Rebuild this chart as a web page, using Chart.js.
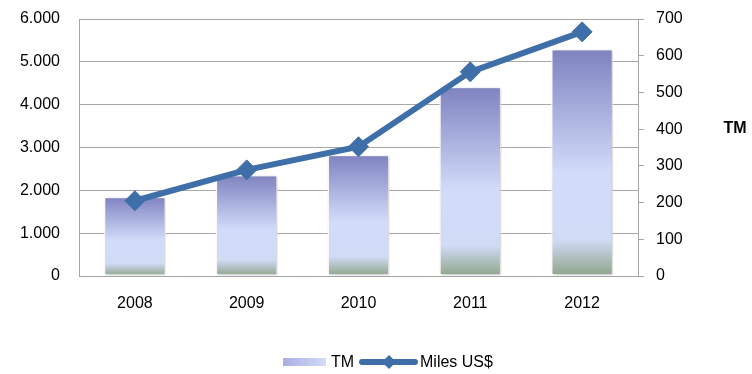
<!DOCTYPE html>
<html>
<head>
<meta charset="utf-8">
<script src="https://cdn.jsdelivr.net/npm/chart.js@4/dist/chart.umd.min.js"></script>
<style>
  html, body { margin: 0; padding: 0; background: #fff; }
  #wrap { position: relative; width: 752px; height: 374px; }
</style>
</head>
<body>
<div id="wrap"><canvas id="grafico"></canvas></div>
<script>
// dados
const anos = ['2008', '2009', '2010', '2011', '2012'];
const valoresTM = [1850, 2360, 2830, 4420, 5300];
const valoresUSD = [205, 289, 352, 556, 665];
const ticksEsq = [0, 1000, 2000, 3000, 4000, 5000, 6000];
const ticksDir = [0, 100, 200, 300, 400, 500, 600, 700];
const legendaTM = 'TM';
const legendaUSD = 'Miles US$';
const tituloDir = 'TM';

const corLinha = '#3f6fa8';
const corGrade = '#a6a6a6';
const fonte = "'Liberation Sans', Arial, sans-serif";

function fmtMilhar(v) {
  return String(v).replace(/\B(?=(\d{3})+(?!\d))/g, '.');
}

function gradienteBarra(ctx, topo, base) {
  const g = ctx.createLinearGradient(0, topo, 0, base);
  g.addColorStop(0, '#7e82c0');
  g.addColorStop(0.55, '#d2dcfa');
  g.addColorStop(0.84, '#d0dbf6');
  g.addColorStop(1, '#8ea489');
  return g;
}

// sombra leve nas barras
const sombraBarras = {
  id: 'sombraBarras',
  beforeDatasetDraw(chart, args) {
    if (args.meta.type !== 'bar') return;
    const c = chart.ctx;
    c.save();
    c.shadowColor = 'rgba(0,0,0,0.25)';
    c.shadowBlur = 3;
    c.shadowOffsetX = 1;
    c.shadowOffsetY = 1;
  },
  afterDatasetDraw(chart, args) {
    if (args.meta.type !== 'bar') return;
    chart.ctx.restore();
  }
};

// legenda e título do eixo direito
const extras = {
  id: 'extras',
  afterDraw(chart) {
    const c = chart.ctx;
    c.save();
    c.fillStyle = '#000';
    c.font = 'bold 16px ' + fonte;
    c.textAlign = 'center';
    c.textBaseline = 'middle';
    c.fillText(tituloDir, 735, 129);

    const y = 362;
    // barra
    const g = c.createLinearGradient(283, 0, 326, 0);
    g.addColorStop(0, '#a9aee0');
    g.addColorStop(1, '#d2dcfa');
    c.fillStyle = g;
    c.fillRect(283, y - 4, 43, 8);
    c.fillStyle = '#000';
    c.font = '16px ' + fonte;
    c.textAlign = 'left';
    c.fillText(legendaTM, 331, y + 1);
    // linha
    c.strokeStyle = corLinha;
    c.lineWidth = 6;
    c.lineCap = 'round';
    c.beginPath();
    c.moveTo(362, y);
    c.lineTo(415, y);
    c.stroke();
    c.fillStyle = corLinha;
    c.beginPath();
    c.moveTo(389, y - 7);
    c.lineTo(396, y);
    c.lineTo(389, y + 7);
    c.lineTo(382, y);
    c.closePath();
    c.fill();
    c.fillStyle = '#000';
    c.fillText(legendaUSD, 420, y + 1);
    c.restore();
  }
};

new Chart(document.getElementById('grafico'), {
  type: 'bar',
  data: {
    labels: anos,
    datasets: [
      {
        type: 'line',
        label: legendaUSD,
        data: valoresUSD,
        yAxisID: 'yDir',
        borderColor: corLinha,
        backgroundColor: corLinha,
        borderWidth: 6,
        pointStyle: 'rectRot',
        pointRadius: 10,
        pointBackgroundColor: corLinha,
        pointBorderColor: corLinha,
        pointBorderWidth: 1,
        tension: 0,
        order: 0
      },
      {
        label: legendaTM,
        data: valoresTM,
        yAxisID: 'yEsq',
        backgroundColor: (ctx) => {
          const chart = ctx.chart;
          const area = chart.chartArea;
          if (!area || ctx.parsed === undefined) return '#b8c2ee';
          const topo = chart.scales.yEsq.getPixelForValue(ctx.parsed.y);
          return gradienteBarra(chart.ctx, topo, area.bottom);
        },
        borderColor: 'rgba(255,255,255,0.95)',
        borderWidth: 1.5,
        borderSkipped: false,
        barPercentage: 0.555,
        categoryPercentage: 1,
        order: 1
      }
    ]
  },
  options: {
    responsive: true,
    maintainAspectRatio: false,
    animation: false,
    layout: { padding: { top: 19, left: 0, right: 0, bottom: 0 } },
    plugins: {
      legend: { display: false },
      tooltip: { enabled: false }
    },
    scales: {
      x: {
        afterFit: (s) => { s.height = 98; },
        grid: { display: false, drawTicks: false },
        border: { color: corGrade, width: 1 },
        ticks: { color: '#000', font: { family: fonte, size: 16 }, padding: 18 }
      },
      yEsq: {
        position: 'left',
        min: 0,
        max: 6000,
        afterFit: (s) => { s.width = 79; s.paddingTop = 0; s.paddingBottom = 0; },
        afterBuildTicks: (s) => { s.ticks = ticksEsq.map(v => ({ value: v })); },
        grid: { color: corGrade, drawTicks: false },
        border: { color: corGrade, width: 1 },
        ticks: {
          color: '#000',
          font: { family: fonte, size: 16 },
          padding: 19,
          callback: (v) => fmtMilhar(v)
        }
      },
      yDir: {
        position: 'right',
        min: 0,
        max: 700,
        afterFit: (s) => { s.width = 114; s.paddingTop = 0; s.paddingBottom = 0; },
        afterBuildTicks: (s) => { s.ticks = ticksDir.map(v => ({ value: v })); },
        grid: { drawOnChartArea: false, color: corGrade, tickLength: 6 },
        border: { color: corGrade, width: 1 },
        ticks: { color: '#000', font: { family: fonte, size: 16 }, padding: 12 }
      }
    }
  },
  plugins: [sombraBarras, extras]
});
</script>
</body>
</html>
